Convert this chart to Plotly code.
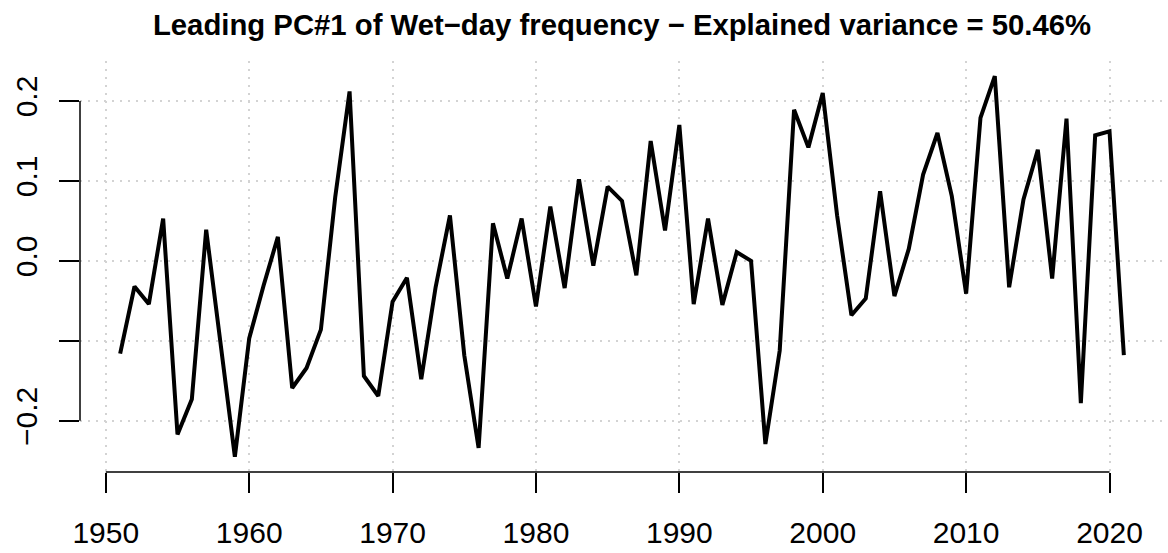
import plotly.graph_objects as go

years = list(range(1951, 2022))
pc1 = [-0.116, -0.032, -0.054, 0.053, -0.217, -0.173, 0.039, -0.102, -0.245, -0.097,
       -0.031, 0.030, -0.159, -0.134, -0.086, 0.080, 0.212, -0.144, -0.169, -0.051,
       -0.021, -0.148, -0.033, 0.057, -0.118, -0.234, 0.047, -0.022, 0.053, -0.057,
       0.068, -0.034, 0.102, -0.006, 0.093, 0.075, -0.018, 0.150, 0.038, 0.170,
       -0.054, 0.053, -0.055, 0.011, 0.000, -0.229, -0.112, 0.189, 0.142, 0.210,
       0.057, -0.068, -0.047, 0.087, -0.044, 0.015, 0.108, 0.160, 0.081, -0.041,
       0.179, 0.231, -0.033, 0.077, 0.139, -0.022, 0.178, -0.178, 0.157, 0.162,
       -0.118]

x_ticks = [1950, 1960, 1970, 1980, 1990, 2000, 2010, 2020]
y_ticks = [-0.2, -0.1, 0.0, 0.1, 0.2]
y_ticktext = ["\u22120.2", "", "0.0", "0.1", "0.2"]
title_text = "Leading PC#1 of Wet\u2212day frequency \u2212 Explained variance = 50.46%"

FONT = "Liberation Sans, Arial, Helvetica, sans-serif"

# R-style axis ranges (4% extension)
xr = (min(years), max(years))
xpad = (xr[1] - xr[0]) * 0.04
yr = (min(pc1), max(pc1))
ypad = (yr[1] - yr[0]) * 0.04

fig = go.Figure()
fig.add_trace(go.Scatter(x=years, y=pc1, mode="lines",
                         line=dict(color="black", width=4), hoverinfo="x+y",
                         showlegend=False))

grid_style = dict(showgrid=True, gridcolor="#d3d3d3", gridwidth=1.5, griddash="2px,6px")

fig.update_xaxes(range=[xr[0] - xpad, xr[1] + xpad], tickvals=x_ticks,
                 ticktext=[str(v) for v in x_ticks],
                 ticks="outside", ticklen=20, tickwidth=1.5, tickcolor="black",
                 showline=False, zeroline=False, ticklabelstandoff=14,
                 tickfont=dict(family=FONT, size=30, color="black"), **grid_style)
fig.update_yaxes(range=[yr[0] - ypad, yr[1] + ypad], tickvals=y_ticks,
                 ticktext=y_ticktext, tickangle=-90,
                 ticks="outside", ticklen=20, tickwidth=1.5, tickcolor="black",
                 showline=False, zeroline=False, ticklabelstandoff=10,
                 tickfont=dict(family=FONT, size=30, color="black"), **grid_style)

# R-style axis lines spanning first to last tick
fig.add_shape(type="line", xref="x", yref="paper", x0=x_ticks[0], x1=x_ticks[-1],
              y0=0, y1=0, line=dict(color="black", width=1.5))
fig.add_shape(type="line", xref="paper", yref="y", x0=0, x1=0,
              y0=y_ticks[0], y1=y_ticks[-1], line=dict(color="black", width=1.5))

fig.update_layout(
    width=1168, height=553,
    margin=dict(l=80, r=4, t=61, b=79),
    plot_bgcolor="white", paper_bgcolor="white",
    title=dict(text="<b>" + title_text + "</b>", x=0.5, xref="paper",
               y=1 - 25 / 553, yref="container", yanchor="middle", xanchor="center",
               font=dict(family=FONT, size=29.3, color="black")),
)

fig.write_html("out.html", config={"displayModeBar": False},
               post_script="document.body.style.margin='0';document.body.style.padding='0';")
